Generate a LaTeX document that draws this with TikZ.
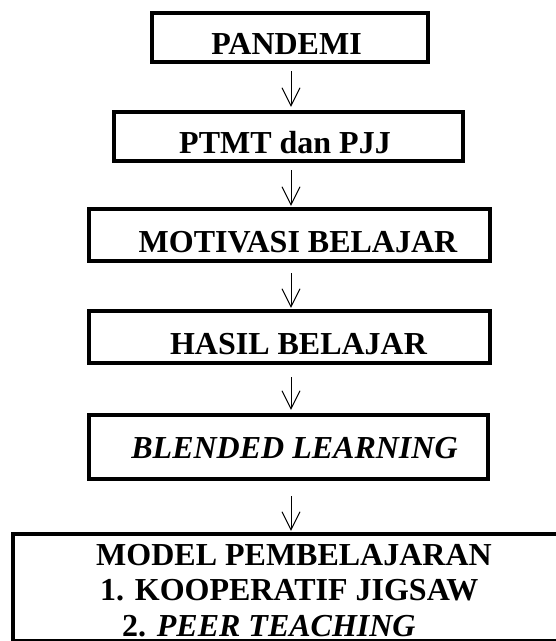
\documentclass[tikz,border=0pt]{standalone}
\usepackage{fontspec}
\setmainfont{Liberation Serif}
\usetikzlibrary{arrows.meta}
\begin{document}
\begin{tikzpicture}[x=1pt,y=1pt,
  box/.style={draw=black, line width=4.3pt, inner sep=0pt, fill=none},
  lbl/.style={inner sep=0pt, font=\fontsize{32}{36}\selectfont\bfseries, anchor=base},
  arr/.style={line width=1pt, -{Straight Barb[length=18pt,width=18pt,line width=1pt]}}]
\useasboundingbox (0,0) rectangle (556,-641);
% boxes
\node[box, minimum width=276pt, minimum height=49pt] (b1) at (290,-37.5) {};
\node[box, minimum width=349pt, minimum height=49pt] (b2) at (288.5,-136.5) {};
\node[box, minimum width=401pt, minimum height=52pt] (b3) at (289.5,-235) {};
\node[box, minimum width=401pt, minimum height=52pt] (b4) at (289.5,-337) {};
\node[box, minimum width=399pt, minimum height=64pt] (b5) at (288.5,-447) {};
\node[box, minimum width=567pt, minimum height=107pt] (b6) at (296.5,-587.5) {};
% texts
\node[lbl] (t1) at (286.5,-54.5) {PANDEMI};
\node[lbl] (t2) at (285,-153) {PTMT dan PJJ};
\node[lbl] (t3) at (298,-252.5) {MOTIVASI BELAJAR};
\node[lbl] (t4) at (298.5,-354) {HASIL BELAJAR};
\node[lbl] (t5) at (294.5,-458) {\itshape BLENDED LEARNING};
\node[lbl] (t6a) at (294,-565) {MODEL PEMBELAJARAN};
\node[lbl, anchor=base west] (t6b) at (100,-600) {1. KOOPERATIF JIGSAW};
\node[lbl, anchor=base west] (t6c) at (122,-636) {2. \itshape PEER TEACHING};
% arrows
\coordinate (ax) at (291,0);
\draw[arr] ([yshift=-7pt]ax |- b1.south) -- ([yshift=3pt]ax |- b2.north);
\draw[arr] ([yshift=-7pt]ax |- b2.south) -- ([yshift=1pt]ax |- b3.north);
\draw[arr] ([yshift=-10pt]ax |- b3.south) -- ([yshift=1pt]ax |- b4.north);
\draw[arr] ([yshift=-12pt]ax |- b4.south) -- ([yshift=3pt]ax |- b5.north);
\draw[arr] ([yshift=-15pt]ax |- b5.south) -- ([yshift=1pt]ax |- b6.north);
\end{tikzpicture}
\end{document}
